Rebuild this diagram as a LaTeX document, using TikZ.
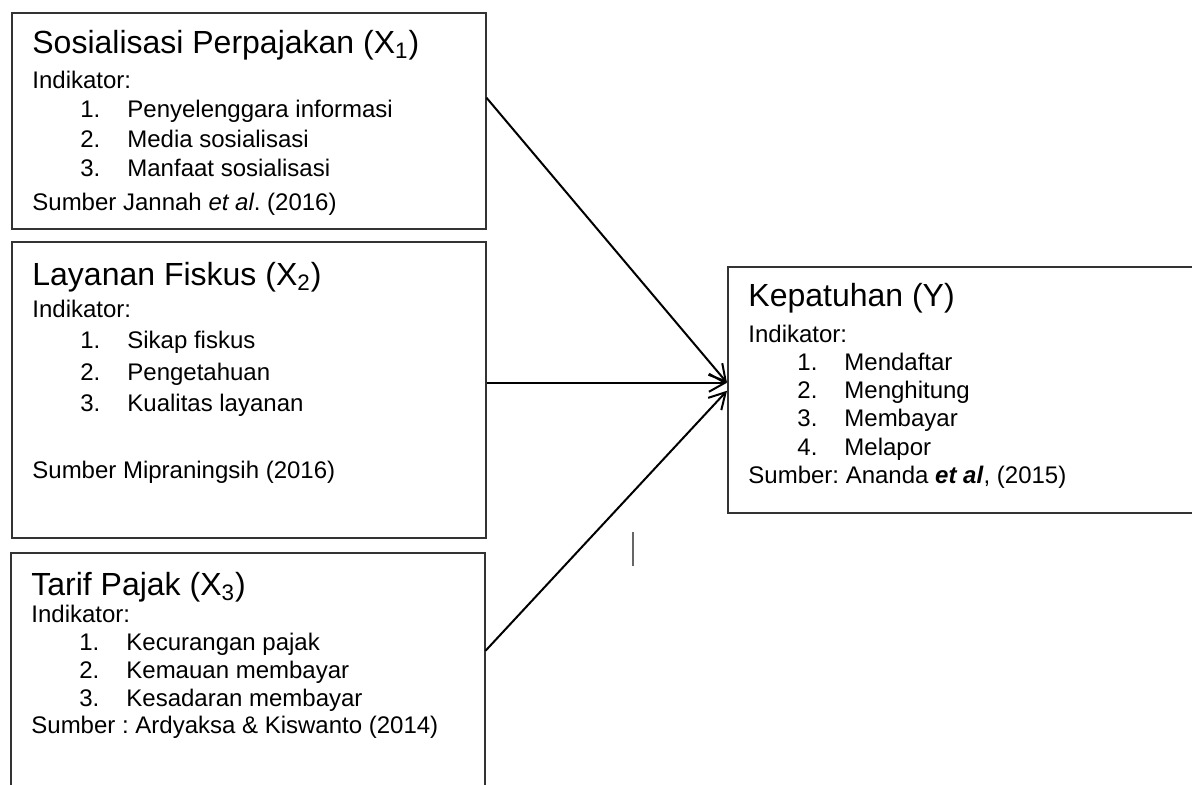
\documentclass[tikz,border=0pt]{standalone}
\usepackage{fontspec}
\setmainfont{Liberation Sans}
\usetikzlibrary{arrows.meta}
\frenchspacing
\newcommand{\mklist}[5]{\foreach \t [count=\n] in {#5}{\node[txt] (#1n\n) at (#2,{#3+#4*\n}) {\n.}; \node[txt] (#1i\n) at (#2+47,{#3+#4*\n}) {\t};}}

\begin{document}
\begin{tikzpicture}[x=0.5pt,y=-0.5pt,
    box/.style={draw=black!80,line width=0.75pt,anchor=north west,inner sep=0pt,minimum width=237pt},
    ttl/.style={anchor=base west,inner sep=0pt,font=\fontsize{16}{19}\selectfont},
    txt/.style={anchor=base west,inner sep=0pt,font=\fontsize{12}{14}\selectfont},
    arr/.style={line width=1pt,-{Straight Barb[length=8pt,width=9pt]}}
    ]
    \useasboundingbox (0,0) rectangle (1192,784);
    \clip (0,0) rectangle (1192,784);
    % boxes
    \node[box,minimum height=108pt] (xa) at (11,12) {};
    \node[box,minimum height=148pt] (xb) at (11,241) {};
    \node[box,minimum height=120pt] (xc) at (10,552) {};
    \node[box,minimum width=240pt,minimum height=123pt] (ky) at (727,266) {};
    % X1
    \node[ttl] (xat) at (32,53) {Sosialisasi Perpajakan (X\textsubscript{1})};
    \node[txt] (xah) at (32,88) {Indikator:};
    \mklist{xa}{80}{88}{29.5}{Penyelenggara informasi, Media sosialisasi, Manfaat sosialisasi}
    \node[txt] (xas) at (32,210) {Sumber Jannah \textit{et al}. (2016)};
    % X2
    \node[ttl] (xbt) at (32,285) {Layanan Fiskus (X\textsubscript{2})};
    \node[txt] (xbh) at (32,317) {Indikator:};
    \mklist{xb}{80}{317}{31.5}{Sikap fiskus, Pengetahuan, Kualitas layanan}
    \node[txt] (xbs) at (32,478) {Sumber Mipraningsih (2016)};
    % X3
    \node[ttl] (xct) at (31,595) {Tarif Pajak (X\textsubscript{3})};
    \node[txt] (xch) at (31,622) {Indikator:};
    \mklist{xc}{79}{622}{28}{Kecurangan pajak, Kemauan membayar, Kesadaran membayar}
    \node[txt] (xcs) at (31,733) {Sumber : Ardyaksa \& Kiswanto (2014)};
    % Y
    \node[ttl] (kyt) at (748,306) {Kepatuhan (Y)};
    \node[txt] (kyh) at (748,342) {Indikator:};
    \mklist{ky}{797}{342}{28.3}{Mendaftar, Menghitung, Membayar, Melapor}
    \node[txt] (kys) at (748,483) {Sumber: Ananda \textbf{\textit{et al}}, (2015)};
    % arrows
    \draw[arr] ([yshift=11.5pt]xa.east) -- ([yshift=3.5pt]ky.west);
    \draw[arr] ([yshift=3.5pt]xb.east) -- ([yshift=3.5pt]ky.west);
    \draw[arr] ([yshift=11pt]xc.east) -- ([yshift=-0.5pt]ky.west);
    \draw[black!60,line width=0.6pt] (633,532) -- (633,566);
\end{tikzpicture}
\end{document}
